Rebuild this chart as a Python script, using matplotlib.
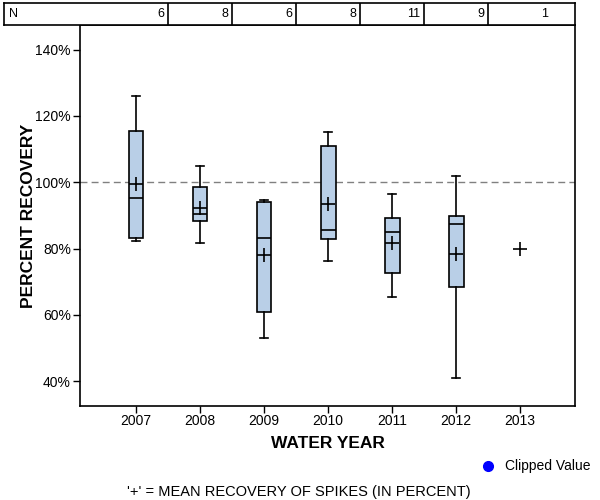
import matplotlib
matplotlib.use("Agg")
import matplotlib.pyplot as plt
from matplotlib.lines import Line2D
from matplotlib.ticker import FuncFormatter

plt.rcParams["font.family"] = ["Liberation Sans", "DejaVu Sans"]

# values (percent recovery)
years = ["2007", "2008", "2009", "2010", "2011", "2012", "2013"]
counts = [6, 8, 6, 8, 11, 9, 1]
whisker_low = [82.3, 81.6, 52.9, 76.2, 65.4, 40.9]
q1 = [83.2, 88.2, 60.8, 82.8, 72.5, 68.4]
medians = [95.3, 90.3, 83.1, 85.5, 85.0, 87.4]
q3 = [115.4, 98.5, 94.0, 110.9, 89.1, 89.7]
whisker_high = [126.0, 104.8, 94.6, 115.1, 96.4, 101.9]
means = [99.6, 92.3, 78.0, 93.5, 81.7, 78.5, 79.8]

BOX_COLOR = "#b9cfe7"

fig = plt.figure(figsize=(6, 5), dpi=100)
ax = fig.add_axes([80 / 600, 1 - 406 / 500, 495 / 600, 381 / 500])

stats = []
for i in range(len(q1)):
    stats.append({"label": years[i], "whislo": whisker_low[i], "q1": q1[i],
                  "med": medians[i], "q3": q3[i], "whishi": whisker_high[i],
                  "mean": means[i], "fliers": []})

positions = list(range(len(years)))
ax.bxp(stats, positions=positions[:len(stats)], widths=0.234,
       patch_artist=True, showmeans=False, showfliers=False,
       boxprops=dict(facecolor=BOX_COLOR, edgecolor="black", linewidth=1.2),
       medianprops=dict(color="black", linewidth=1.2),
       whiskerprops=dict(color="black", linewidth=1.2),
       capprops=dict(color="black", linewidth=1.2), capwidths=0.125)

ax.plot(positions, means, linestyle="none", marker="+", markersize=10,
        markeredgewidth=1.2, color="black", zorder=5)

ax.axhline(100, color="#808080", linestyle=(0, (5, 3)), linewidth=1, zorder=1)

ax.set_xlim(-0.875, 6.859)
ax.set_ylim(32.5, 147.45)
ax.set_xticks(positions)
ax.set_xticklabels(years)
ax.set_yticks([40, 60, 80, 100, 120, 140])
ax.yaxis.set_major_formatter(FuncFormatter(lambda v, p: f"{v:.0f}%"))
ax.tick_params(direction="out", length=5, width=1, labelsize=10, colors="black")
ax.tick_params(axis="x", pad=1)
ax.tick_params(axis="y", pad=1.5)
for side in ["left", "right", "bottom", "top"]:
    ax.spines[side].set_linewidth(1.2)

ax.set_xlabel("WATER YEAR", fontsize=12.5, fontweight="bold")
ax.set_ylabel("PERCENT RECOVERY", fontsize=12.5, fontweight="bold")
ax.xaxis.set_label_coords(0.5, -38 / 381)
ax.yaxis.set_label_coords(-51 / 495, 0.5)
ax.xaxis.label.set_va("center")
ax.yaxis.label.set_va("center")

# N table across the top
tab = fig.add_axes([4 / 600, 1 - 25 / 500, 571 / 600, 22 / 500])
tab.set_xlim(-2.0625, 6.859)
tab.set_ylim(0, 1)
tab.set_xticks([])
tab.set_yticks([])
for side in tab.spines.values():
    side.set_linewidth(1.2)
for i in range(len(years) - 1):
    tab.axvline(i + 0.5, color="black", linewidth=1.2)
tab.text(-2.0625 + 0.08, 0.5, "N", ha="left", va="center", fontsize=9)
for i, n in enumerate(counts):
    tab.text(i + 0.5 - 0.06, 0.5, str(n), ha="right", va="center", fontsize=9)

# legend entry and footnote
fig.add_artist(Line2D([488 / 600], [1 - 466 / 500], transform=fig.transFigure,
                      marker="o", markersize=7, color="blue", linestyle="none"))
fig.text(505 / 600, 1 - 466 / 500, "Clipped Value", ha="left", va="center", fontsize=10)
fig.text(299 / 600, 1 - 492 / 500, "'+' = MEAN RECOVERY OF SPIKES (IN PERCENT)",
         ha="center", va="center", fontsize=10.5)

fig.savefig("out.png", dpi=100)
